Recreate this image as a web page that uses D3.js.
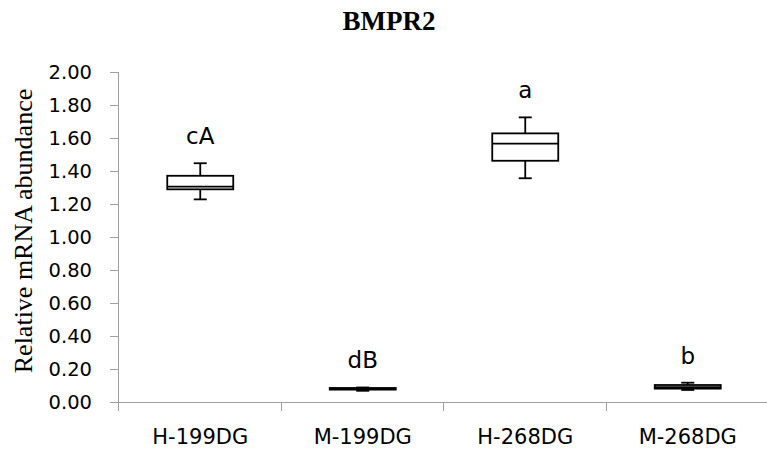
<!DOCTYPE html>
<html>
<head>
<meta charset="utf-8">
<script src="https://cdn.jsdelivr.net/npm/d3@7/dist/d3.min.js"></script>
<style>
  html, body { margin: 0; padding: 0; background: #fff; }
  svg { display: block; }
</style>
</head>
<body>
<svg id="chart" width="767" height="451"></svg>
<script>
// Groups and box-plot statistics (relative mRNA abundance)
const categories  = ["H-199DG", "M-199DG", "H-268DG", "M-268DG"];
const whiskerLow  = [1.228, 0.068, 1.356, 0.073];
const q1          = [1.289, 0.075, 1.462, 0.081];
const median      = [1.305, 0.080, 1.566, 0.090];
const q3          = [1.371, 0.085, 1.628, 0.103];
const whiskerHigh = [1.447, 0.088, 1.725, 0.117];
const sigLetters  = ["cA", "dB", "a", "b"];
const yTicks      = [0, 0.2, 0.4, 0.6, 0.8, 1.0, 1.2, 1.4, 1.6, 1.8, 2.0];

const svg = d3.select("#chart");
const plot = { left: 119, right: 769, top: 72, bottom: 402 };
const axisColor = "#a0a0a0";
const sans = "DejaVu Sans, Verdana, sans-serif";
const serif = "Liberation Serif, Times New Roman, serif";

const x = d3.scaleBand().domain(categories).range([plot.left, plot.right]);
const y = d3.scaleLinear().domain([0, 2]).range([plot.bottom, plot.top]);

// Title
svg.append("text")
  .attr("x", 389).attr("y", 30)
  .attr("text-anchor", "middle")
  .attr("font-family", serif)
  .attr("font-weight", "bold")
  .attr("font-size", 27)
  .text("BMPR2");

// Y axis
const yAxis = d3.axisLeft(y).tickValues(yTicks).tickSize(9).tickPadding(18)
  .tickFormat(d3.format(".2f"));
const gy = svg.append("g").attr("transform", `translate(${plot.left},0)`).call(yAxis);
gy.select(".domain").attr("stroke", axisColor).attr("d", `M-0.5,${plot.top}V${plot.bottom}`);
gy.selectAll(".tick line").attr("stroke", axisColor);
gy.selectAll(".tick text")
  .attr("font-family", sans)
  .attr("font-size", 19.5).attr("fill", "#000");

// X axis with ticks on group boundaries
const bounds = categories.map(c => x(c)).concat([plot.right]);
const gx = svg.append("g");
gx.append("line")
  .attr("x1", 110).attr("x2", plot.right)
  .attr("y1", plot.bottom + 0.5).attr("y2", plot.bottom + 0.5)
  .attr("stroke", axisColor);
gx.selectAll("line.bt").data(bounds.slice(0, 4)).enter().append("line")
  .attr("class", "bt")
  .attr("x1", d => Math.round(d) - 0.5).attr("x2", d => Math.round(d) - 0.5)
  .attr("y1", plot.bottom).attr("y2", plot.bottom + 9)
  .attr("stroke", axisColor);
gx.selectAll("text").data(categories).enter().append("text")
  .attr("x", d => x(d) + x.bandwidth() / 2)
  .attr("y", 444)
  .attr("text-anchor", "middle")
  .attr("font-family", sans)
  .attr("font-size", 21)
  .text(d => d);

// Y axis title
svg.append("text")
  .attr("transform", `translate(32,${(plot.top + plot.bottom) / 2 - 6}) rotate(-90)`)
  .attr("text-anchor", "middle")
  .attr("font-family", serif)
  .attr("font-size", 26)
  .text("Relative mRNA abundance");

// Boxes
const boxW = 66, capW = 13;
const boxes = svg.append("g").attr("stroke", "#000").attr("stroke-width", 1.8).attr("fill", "#fff");
categories.forEach((c, i) => {
  const cx = x(c) + x.bandwidth() / 2;
  const g = boxes.append("g");
  // whiskers
  g.append("line").attr("x1", cx).attr("x2", cx).attr("y1", y(whiskerHigh[i])).attr("y2", y(q3[i]));
  g.append("line").attr("x1", cx).attr("x2", cx).attr("y1", y(q1[i])).attr("y2", y(whiskerLow[i]));
  g.append("line").attr("x1", cx - capW / 2).attr("x2", cx + capW / 2).attr("y1", y(whiskerHigh[i])).attr("y2", y(whiskerHigh[i]));
  g.append("line").attr("x1", cx - capW / 2).attr("x2", cx + capW / 2).attr("y1", y(whiskerLow[i])).attr("y2", y(whiskerLow[i]));
  // box and median
  g.append("rect").attr("x", cx - boxW / 2).attr("width", boxW)
    .attr("y", y(q3[i])).attr("height", y(q1[i]) - y(q3[i]));
  g.append("line").attr("x1", cx - boxW / 2).attr("x2", cx + boxW / 2)
    .attr("y1", y(median[i])).attr("y2", y(median[i]));
  // significance letters
  svg.append("text")
    .attr("x", cx).attr("y", y(whiskerHigh[i]) - 19)
    .attr("text-anchor", "middle")
    .attr("font-family", sans)
    .attr("font-size", 23)
    .text(sigLetters[i]);
});
</script>
</body>
</html>
